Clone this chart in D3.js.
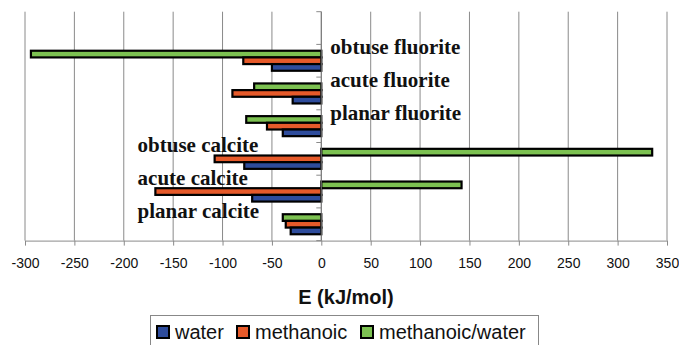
<!DOCTYPE html>
<html>
<head>
<meta charset="utf-8">
<script src="https://cdn.jsdelivr.net/npm/d3@7"></script>
<style>
  html, body { margin: 0; padding: 0; background: #fff; }
  svg { display: block; }
</style>
</head>
<body>
<script>
// ---- data ----
const categories = ["obtuse fluorite", "acute fluorite", "planar fluorite", "obtuse calcite", "acute calcite", "planar calcite"];
const seriesNames = ["methanoic/water", "methanoic", "water"];   // top-to-bottom within each group
const legendOrder = ["water", "methanoic", "methanoic/water"];
const water          = [-50, -29, -39, -78, -70, -31];
const methanoic      = [-79, -90, -55, -108, -168, -36];
const methanoicWater = [-294, -68, -76, 335, 142, -39];
const xTicks = [-300, -250, -200, -150, -100, -50, 0, 50, 100, 150, 200, 250, 300, 350];
const xTitle = "E (kJ/mol)";
const colors = { "water": "#2e4c9c", "methanoic": "#e65a2a", "methanoic/water": "#7cc151" };
const seriesValues = { "water": water, "methanoic": methanoic, "methanoic/water": methanoicWater };

const W = 679, H = 345;
const svg = d3.select("body").append("svg").attr("width", W).attr("height", H);

const plotTop = 11.7, plotBottom = 240.6;
const step = (plotBottom - plotTop) / 7;

const x = d3.scaleLinear().domain([-300, 350]).range([25, 667]);
const y = d3.scaleBand().domain(categories).range([plotTop + step, plotBottom]).padding(0);
const yInner = d3.scaleBand().domain(seriesNames).range([0, y.bandwidth()]).paddingInner(0).paddingOuter(0.95);

// gridlines
svg.append("g").selectAll("line").data(xTicks).join("line")
  .attr("x1", d => x(d)).attr("x2", d => x(d))
  .attr("y1", plotTop).attr("y2", plotBottom)
  .attr("stroke", "#8a8a8a").attr("stroke-width", 1);

// bottom axis
const xAxis = svg.append("g").attr("transform", `translate(0,${plotBottom})`)
  .call(d3.axisBottom(x).tickValues(xTicks).tickSize(5).tickPadding(12).tickFormat(d => String(d)).tickSizeOuter(0));
xAxis.select(".domain").attr("stroke", "#8a8a8a");
xAxis.selectAll(".tick line").attr("stroke", "#8a8a8a");
xAxis.selectAll(".tick text")
  .attr("font-family", "'Liberation Sans', Arial, sans-serif")
  .attr("font-size", 14).attr("fill", "#111");

// bars
const groups = svg.append("g").selectAll("g").data(categories).join("g")
  .attr("transform", d => `translate(0,${y(d)})`);
groups.selectAll("rect")
  .data((c, i) => seriesNames.map(s => ({ s, v: seriesValues[s][i] })))
  .join("rect")
  .attr("x", d => x(Math.min(0, d.v)))
  .attr("width", d => Math.abs(x(d.v) - x(0)))
  .attr("y", d => yInner(d.s))
  .attr("height", yInner.bandwidth())
  .attr("fill", d => colors[d.s])
  .attr("stroke", "#000").attr("stroke-width", 2.2);

// category axis at zero
const ticksY = d3.range(8).map(i => plotTop + i * step);
svg.append("line").attr("x1", x(0)).attr("x2", x(0)).attr("y1", plotTop).attr("y2", plotBottom)
  .attr("stroke", "#777").attr("stroke-width", 1);
svg.append("g").selectAll("line").data(ticksY).join("line")
  .attr("x1", x(0) - 5).attr("x2", x(0))
  .attr("y1", d => d).attr("y2", d => d)
  .attr("stroke", "#8a8a8a");

// category labels
svg.append("g").selectAll("text").data(categories).join("text")
  .attr("x", d => d.includes("fluorite") ? x(0) + 9 : x(-186))
  .attr("y", d => y(d) + y.bandwidth() * 0.3)
  .attr("font-family", "'Liberation Serif', 'Times New Roman', serif")
  .attr("font-weight", "bold").attr("font-size", 21).attr("fill", "#111")
  .text(d => d);

// x title
svg.append("text").attr("x", (x.range()[0] + x.range()[1]) / 2).attr("y", 304)
  .attr("text-anchor", "middle")
  .attr("font-family", "'Liberation Sans', Arial, sans-serif")
  .attr("font-weight", "bold").attr("font-size", 20).attr("fill", "#111")
  .text(xTitle);

// legend
const lg = svg.append("g");
lg.append("rect").attr("x", 150.5).attr("y", 315.5).attr("width", 388).attr("height", 40)
  .attr("fill", "#fff").attr("stroke", "#888");
const itemX = [157, 237, 361];
legendOrder.forEach((s, i) => {
  lg.append("rect").attr("x", itemX[i]).attr("y", 326).attr("width", 12).attr("height", 12)
    .attr("fill", colors[s]).attr("stroke", "#000").attr("stroke-width", 2);
  lg.append("text").attr("x", itemX[i] + 18).attr("y", 338.5)
    .attr("font-family", "'Liberation Sans', Arial, sans-serif")
    .attr("font-size", 20).attr("fill", "#111")
    .text(s);
});
</script>
</body>
</html>
